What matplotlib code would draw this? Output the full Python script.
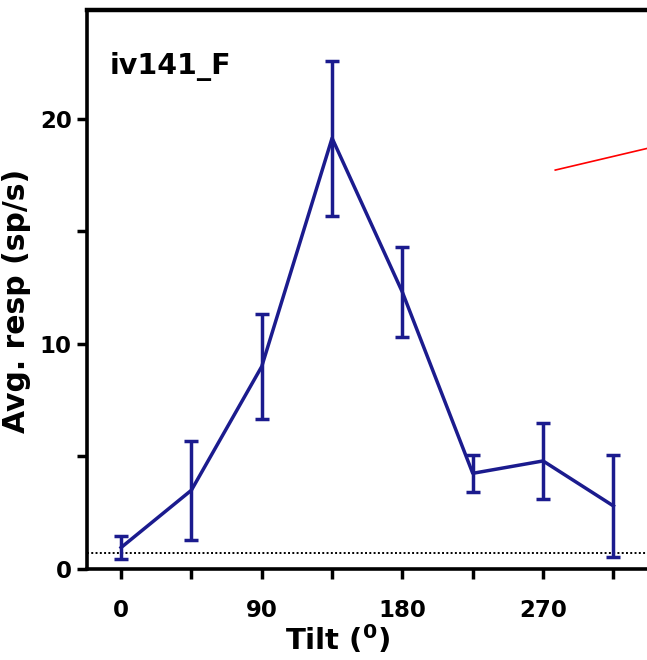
import matplotlib

matplotlib.use("Agg")

import matplotlib.pyplot as plt  # noqa: E402

plt.rcParams["font.family"] = ["DejaVu Sans"]
plt.rcParams["font.weight"] = "bold"
plt.rcParams["mathtext.fontset"] = "custom"
plt.rcParams["mathtext.rm"] = "DejaVu Sans:bold"
plt.rcParams["mathtext.bf"] = "DejaVu Sans:bold"

# 读图估计的数据
tilt = [0, 45, 90, 135, 180, 225, 270, 315]
resp = [0.95, 3.5, 9.0, 19.15, 12.3, 4.25, 4.8, 2.8]
err = [0.5, 2.2, 2.35, 3.45, 2.0, 0.82, 1.7, 2.27]
baseline = 0.71
red_x = [277.8, 345.0]
red_y = [17.73, 18.83]

x_ticks = [0, 45, 90, 135, 180, 225, 270, 315]
x_labels = ["0", "", "90", "", "180", "", "270", ""]
y_ticks = [0, 5, 10, 15, 20]
y_labels = ["0", "", "10", "", "20"]

navy = "#1b1b8e"

fig = plt.figure(figsize=(6.47, 6.60), dpi=100)
ax = fig.add_axes([0.1345, 0.138, 0.8655, 0.847])

ax.errorbar(tilt, resp, yerr=err, color=navy, lw=2.5, elinewidth=2.5,
            capsize=5, capthick=2.5, zorder=3)
ax.axhline(baseline, color="black", ls=(0, (1, 1.2)), lw=1.4, zorder=2)
ax.plot(red_x, red_y, color="red", lw=1.2, zorder=4)

ax.set_xlim(-21.8, 336.5)
ax.set_ylim(0, 24.85)
ax.set_xticks(x_ticks)
ax.set_xticklabels(x_labels)
ax.set_yticks(y_ticks)
ax.set_yticklabels(y_labels)
ax.tick_params(direction="out", length=7, width=2.5, labelsize=16.5)
ax.tick_params(axis="x", pad=15)
ax.tick_params(axis="y", pad=4)

for side in ("left", "bottom"):
    ax.spines[side].set_linewidth(2.6)
ax.spines["top"].set_linewidth(3.2)
ax.spines["right"].set_visible(False)

ax.set_xlabel(r"Tilt ($^{\mathbf{0}}$)", fontsize=21, fontweight="bold")
ax.set_ylabel("Avg. resp (sp/s)", fontsize=21.5, fontweight="bold")
# 原图的轴标题并不在坐标轴正中
ax.xaxis.set_label_coords(0.447, -0.097)
ax.yaxis.set_label_coords(-0.10, 0.48)
ax.text(0.04, 0.925, "iv141_F", transform=ax.transAxes, fontsize=20.5,
        fontweight="bold", va="top", ha="left")

fig.savefig("out.png", dpi=100)
